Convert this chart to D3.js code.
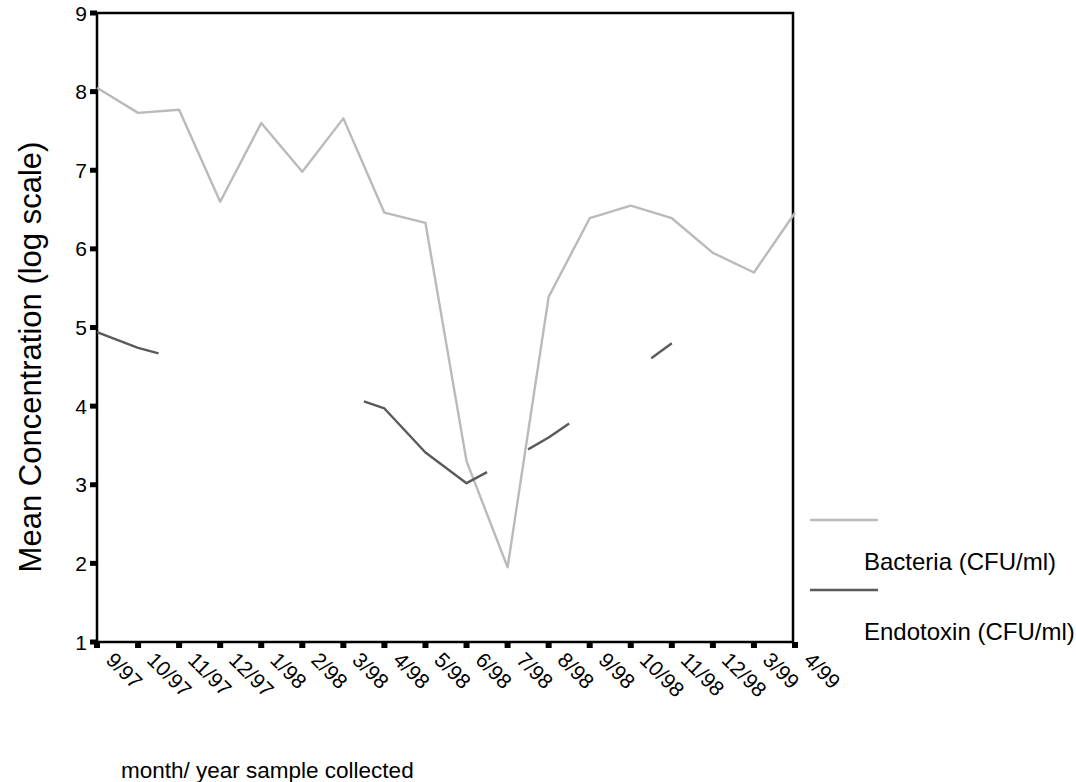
<!DOCTYPE html>
<meta charset="utf-8">
<script src="https://cdn.jsdelivr.net/npm/d3@7"></script>
<style>
body { margin: 0; background: #fff; }
text { font-family: "Liberation Sans", Arial, sans-serif; fill: #000; }
.bact { fill: none; stroke: #bababa; stroke-width: 2.4px; stroke-linejoin: round; }
.endo { fill: none; stroke: #5a5a5a; stroke-width: 2.4px; stroke-linejoin: round; }
</style>
<body>
<div id="chart"></div>
<script>
// month labels on the x axis
var months = ["9/97", "10/97", "11/97", "12/97", "1/98", "2/98", "3/98", "4/98", "5/98",
              "6/98", "7/98", "8/98", "9/98", "10/98", "11/98", "12/98", "3/99", "4/99"];

// bacteria, log mean concentration per month
var bacteria = [8.05, 7.73, 7.77, 6.6, 7.6, 6.98, 7.66, 6.46, 6.33,
                3.3, 1.95, 5.39, 6.39, 6.55, 6.39, 5.95, 5.7, 6.46];

// endotoxin is broken into pieces; position is month index, null = gap
var endoPos  = [0, 1, 1.5, null, 6.5, 7, 8, 9, 9.5, null, 10.5, 11, 11.5, null, 13.5, 14];
var endoVals = [4.94, 4.74, 4.67, null, 4.06, 3.97, 3.41, 3.02, 3.16, null, 3.45, 3.6, 3.78, null, 4.61, 4.8];

var yTicks = [1, 2, 3, 4, 5, 6, 7, 8, 9];

var width = 1076, height = 782;
var plotLeft = 97, plotRight = 793, plotTop = 13, plotBottom = 642;

var svg = d3.select("#chart").append("svg")
    .attr("width", width)
    .attr("height", height);

var x = d3.scaleLinear().domain([0, months.length - 1]).range([plotLeft, 795]);
var y = d3.scaleLinear().domain([1, 9]).range([plotBottom, plotTop]);

// frame
svg.append("rect")
    .attr("x", plotLeft).attr("y", plotTop)
    .attr("width", plotRight - plotLeft).attr("height", plotBottom - plotTop)
    .attr("fill", "none").attr("stroke", "#000").attr("stroke-width", 2.5);

// y axis ticks (little black blocks) and labels
var yAxis = svg.append("g");
yAxis.selectAll("rect")
    .data(yTicks)
    .enter().append("rect")
    .attr("x", plotLeft - 7)
    .attr("y", function(d) { return y(d) - 2.5; })
    .attr("width", 7)
    .attr("height", 5)
    .attr("fill", "#000");
yAxis.selectAll("text")
    .data(yTicks)
    .enter().append("text")
    .attr("x", 87)
    .attr("y", function(d) { return y(d); })
    .attr("dy", "0.36em")
    .attr("text-anchor", "end")
    .style("font-size", "21px")
    .text(function(d) { return d; });

// x axis ticks and rotated month labels
var xAxis = svg.append("g");
xAxis.selectAll("rect")
    .data(months)
    .enter().append("rect")
    .attr("x", function(d, i) { return x(i) - 3; })
    .attr("y", plotBottom)
    .attr("width", 6)
    .attr("height", 6)
    .attr("fill", "#000");
xAxis.selectAll("text")
    .data(months)
    .enter().append("text")
    .attr("transform", function(d, i) {
        return "translate(" + (x(i) + 13) + "," + (plotBottom + 14) + ") rotate(45)";
    })
    .attr("dy", "0.36em")
    .style("font-size", "21px")
    .text(function(d) { return d; });

// lines
var bactLine = d3.line()
    .x(function(d, i) { return x(i); })
    .y(function(d) { return y(d); });

svg.append("path")
    .attr("class", "bact")
    .attr("d", bactLine(bacteria));

var endoData = endoPos.map(function(p, i) { return [p, endoVals[i]]; });
var endoLine = d3.line()
    .defined(function(d) { return d[0] !== null; })
    .x(function(d) { return x(d[0]); })
    .y(function(d) { return y(d[1]); });

svg.append("path")
    .attr("class", "endo")
    .attr("d", endoLine(endoData));

// axis titles
svg.append("text")
    .attr("transform", "translate(41,357) rotate(-90)")
    .attr("text-anchor", "middle")
    .style("font-size", "31px")
    .text("Mean Concentration (log scale)");

svg.append("text")
    .attr("x", 121)
    .attr("y", 778)
    .style("font-size", "22.5px")
    .text("month/ year sample collected");

// legend
var legend = [
    {name: "Bacteria (CFU/ml)", cls: "bact", y: 520},
    {name: "Endotoxin (CFU/ml)", cls: "endo", y: 590}
];
var lg = svg.append("g").selectAll("g")
    .data(legend)
    .enter().append("g");
lg.append("line")
    .attr("class", function(d) { return d.cls; })
    .attr("x1", 810).attr("x2", 878)
    .attr("y1", function(d) { return d.y; })
    .attr("y2", function(d) { return d.y; });
lg.append("text")
    .attr("x", 864)
    .attr("y", function(d) { return d.y + 50; })
    .style("font-size", "24px")
    .text(function(d) { return d.name; });
</script>
</body>
</html>
